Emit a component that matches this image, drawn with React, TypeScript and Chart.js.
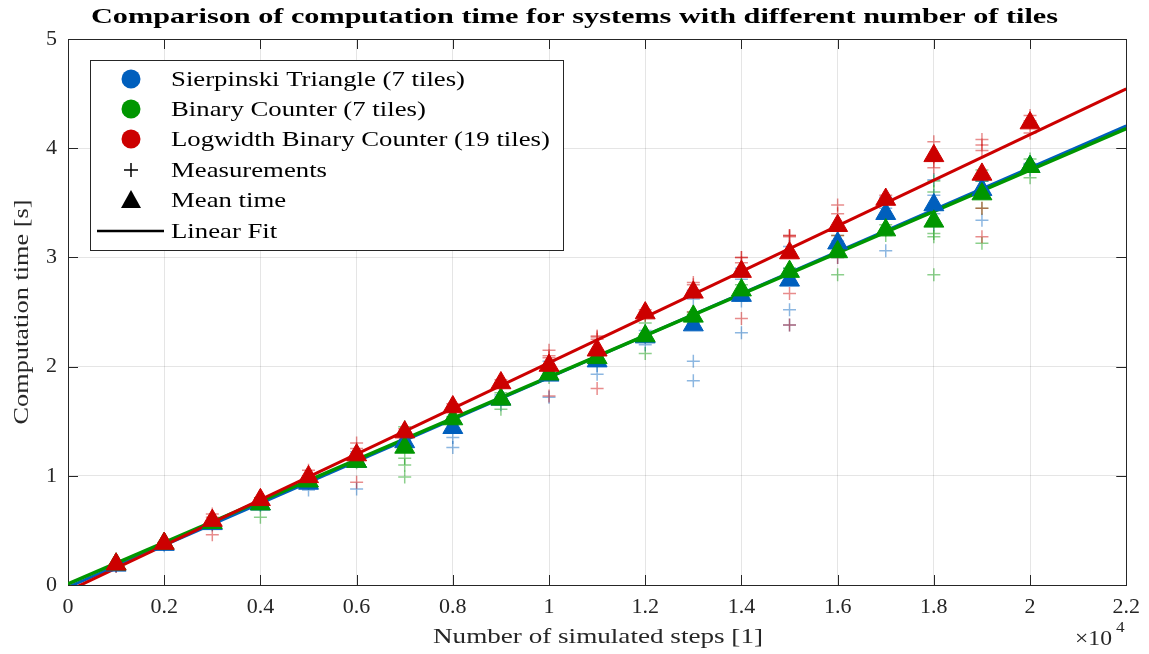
import React, { useEffect, useRef } from "react";
import { Chart, registerables } from "chart.js";

Chart.register(...registerables);

const steps = [1000, 2000, 3000, 4000, 5000, 6000, 7000, 8000, 9000, 10000, 11000, 12000, 13000, 14000, 15000, 16000, 17000, 18000, 19000, 20000];

const sierpinskiMean = [0.18, 0.37, 0.56, 0.74, 0.93, 1.13, 1.31, 1.44, 1.70, 1.92, 2.05, 2.27, 2.38, 2.65, 2.79, 3.13, 3.40, 3.48, 3.62, 3.83];
const binaryMean = [0.19, 0.38, 0.57, 0.74, 0.95, 1.13, 1.26, 1.52, 1.70, 1.93, 2.08, 2.28, 2.46, 2.70, 2.87, 3.05, 3.25, 3.33, 3.58, 3.83];
const logwidthMean = [0.19, 0.38, 0.59, 0.78, 0.99, 1.19, 1.40, 1.63, 1.85, 2.01, 2.15, 2.49, 2.68, 2.87, 3.04, 3.29, 3.53, 3.93, 3.76, 4.23];

const sierpinskiMeas = [
  [0.17, 0.18, 0.19], [0.36, 0.37, 0.38], [0.55, 0.56, 0.57], [0.73, 0.74, 0.75],
  [0.87, 0.95, 0.96], [0.88, 1.18, 1.2, 1.22], [1.28, 1.32, 1.36], [1.26, 1.35, 1.5, 1.6],
  [1.65, 1.70, 1.74], [1.72, 1.95, 2.0, 2.05], [1.93, 2.01, 2.1, 2.15], [2.2, 2.27, 2.33],
  [1.87, 2.05, 2.62, 2.68, 2.7], [2.31, 2.6, 2.8, 2.9], [2.38, 2.52, 2.9, 3.05, 3.1], [3.0, 3.15, 3.25],
  [3.06, 3.45, 3.5, 3.55], [3.3, 3.4, 3.57, 3.71], [3.34, 3.7, 3.7, 3.75], [3.8, 3.85, 3.86]
];
const binaryMeas = [
  [0.18, 0.19, 0.2], [0.37, 0.38, 0.39], [0.56, 0.57, 0.58], [0.62, 0.78, 0.8, 0.78],
  [0.93, 0.96, 0.97], [1.12, 1.13, 1.15], [0.99, 1.10, 1.16, 1.4, 1.45], [1.5, 1.52, 1.54],
  [1.61, 1.72, 1.76], [1.9, 1.93, 1.96], [2.05, 2.1, 2.1], [2.12, 2.3, 2.4],
  [2.4, 2.48, 2.5], [2.65, 2.7, 2.75], [2.85, 2.88, 2.9], [2.84, 3.1, 3.2, 3.1],
  [3.2, 3.25, 3.3], [2.84, 3.19, 3.22, 3.6, 3.7], [3.13, 3.45, 3.7, 3.8], [3.73, 3.85, 3.9]
];
const logwidthMeas = [
  [0.17, 0.18, 0.19], [0.37, 0.38, 0.39], [0.46, 0.62, 0.65], [0.76, 0.78, 0.8],
  [0.96, 0.98, 1.0, 1.05], [0.94, 1.25, 1.3], [1.37, 1.4, 1.43], [1.6, 1.63, 1.66],
  [1.83, 1.85, 1.88], [1.73, 2.1, 2.15, 2.08], [1.80, 2.27, 2.25, 2.28], [2.47, 2.5, 2.52],
  [2.5, 2.75, 2.77], [2.44, 2.95, 3.0, 3.0], [2.38, 2.67, 3.19, 3.2, 3.2], [3.0, 3.2, 3.4, 3.48],
  [3.5, 3.53, 3.57], [3.82, 3.88, 3.92, 4.06], [3.19, 3.45, 3.98, 4.03, 4.08], [4.14, 4.25, 4.3]
];

// linear fit [slope, intercept]
const sierpinskiFit = [1.92e-4, -0.02];
const binaryFit = [1.895e-4, 0.01];
const logwidthFit = [2.09e-4, -0.055];

const xTickValues = [0, 2000, 4000, 6000, 8000, 10000, 12000, 14000, 16000, 18000, 20000, 22000];
const xTickLabels = ["0", "0.2", "0.4", "0.6", "0.8", "1", "1.2", "1.4", "1.6", "1.8", "2", "2.2"];
const yTickValues = [0, 1, 2, 3, 4, 5];

const seriesNames = ["Sierpinski Triangle (7 tiles)", "Binary Counter (7 tiles)", "Logwidth Binary Counter (19 tiles)"];
const legendExtra = ["Measurements", "Mean time", "Linear Fit"];
const titleText = "Comparison of computation time for systems with different number of tiles";
const xTitle = "Number of simulated steps [1]";
const yTitle = "Computation time [s]";

const BLUE = "#005FBD";
const GREEN = "#009600";
const RED = "#CC0000";
const BLUE_A = "rgba(0,95,189,0.45)";
const GREEN_A = "rgba(0,150,0,0.45)";
const RED_A = "rgba(204,0,0,0.45)";
const FONT = "'Liberation Serif', 'DejaVu Serif', serif";

function measPoints(meas: number[][]) {
  const pts: { x: number; y: number }[] = [];
  meas.forEach((vals, i) => vals.forEach((v) => pts.push({ x: steps[i], y: v })));
  return pts;
}
function meanPoints(vals: number[]) {
  return vals.map((v, i) => ({ x: steps[i], y: v }));
}
function fitPoints(fit: number[]) {
  const x0 = xTickValues[0];
  const x1 = xTickValues[xTickValues.length - 1];
  return [
    { x: x0, y: fit[0] * x0 + fit[1] },
    { x: x1, y: fit[0] * x1 + fit[1] },
  ];
}

// draw text horizontally stretched (wide, Computer-Modern-like proportions)
function stretchText(ctx: any, text: string, x: number, y: number, sx: number, align: "left" | "center") {
  ctx.save();
  ctx.translate(x, y);
  ctx.scale(sx, 1);
  ctx.textAlign = align;
  ctx.fillText(text, 0, 0);
  ctx.restore();
}

const decorPlugin = {
  id: "decor",
  beforeDraw(chart: any) {
    const ctx = chart.ctx;
    ctx.save();
    ctx.fillStyle = "#ffffff";
    ctx.fillRect(0, 0, chart.width, chart.height);
    ctx.restore();
  },
  beforeDatasetsDraw(chart: any) {
    const ctx = chart.ctx;
    const a = chart.chartArea;
    const xs = chart.scales.x;
    const ys = chart.scales.y;
    ctx.save();
    ctx.strokeStyle = "#262626";
    ctx.lineWidth = 1;
    ctx.strokeRect(Math.round(a.left) + 0.5, Math.round(a.top) + 0.5, Math.round(a.right - a.left), Math.round(a.bottom - a.top));
    const tl = 10;
    ctx.beginPath();
    xTickValues.forEach((v) => {
      const px = Math.round(xs.getPixelForValue(v)) + 0.5;
      ctx.moveTo(px, a.bottom);
      ctx.lineTo(px, a.bottom - tl);
      ctx.moveTo(px, a.top);
      ctx.lineTo(px, a.top + tl);
    });
    yTickValues.forEach((v) => {
      const py = Math.round(ys.getPixelForValue(v)) + 0.5;
      ctx.moveTo(a.left, py);
      ctx.lineTo(a.left + tl, py);
      ctx.moveTo(a.right, py);
      ctx.lineTo(a.right - tl, py);
    });
    ctx.stroke();
    ctx.restore();
  },
  afterDraw(chart: any) {
    const ctx = chart.ctx;
    ctx.save();
    ctx.textBaseline = "middle";
    // title
    ctx.fillStyle = "#000000";
    ctx.font = `bold 22px ${FONT}`;
    const tw = ctx.measureText(titleText).width;
    stretchText(ctx, titleText, chart.width / 2, 17, 967 / tw, "center");
    // axis titles
    ctx.fillStyle = "#262626";
    ctx.font = `22px ${FONT}`;
    const xw = ctx.measureText(xTitle).width;
    stretchText(ctx, xTitle, 598, 637, 330 / xw, "center");
    const yw = ctx.measureText(yTitle).width;
    ctx.save();
    ctx.translate(22, 312);
    ctx.rotate(-Math.PI / 2);
    stretchText(ctx, yTitle, 0, 0, 225 / yw, "center");
    ctx.restore();
    // x10^4
    ctx.font = `22px ${FONT}`;
    const mw = ctx.measureText("\u00d710").width;
    stretchText(ctx, "\u00d710", 1075, 639, 37 / mw, "left");
    ctx.font = `15px ${FONT}`;
    stretchText(ctx, "4", 1116, 628, 1.15, "left");

    // legend
    const lx = 90, ly = 60, lw = 473, lh = 190;
    ctx.fillStyle = "#ffffff";
    ctx.fillRect(lx, ly, lw, lh);
    ctx.strokeStyle = "#262626";
    ctx.lineWidth = 1;
    ctx.strokeRect(lx + 0.5, ly + 0.5, lw, lh);
    const rows = [79, 109, 139, 170, 200, 231];
    const mx = 131;
    const tx = 171;
    const colors = [BLUE, GREEN, RED];
    ctx.font = `22px ${FONT}`;
    const refW = ctx.measureText(seriesNames[0]).width;
    const sx = 294 / refW;
    for (let i = 0; i < 3; i++) {
      ctx.fillStyle = colors[i];
      ctx.beginPath();
      ctx.arc(mx, rows[i], 9.5, 0, Math.PI * 2);
      ctx.fill();
      ctx.fillStyle = "#000000";
      stretchText(ctx, seriesNames[i], tx, rows[i] + 1, sx, "left");
    }
    // plus
    ctx.strokeStyle = "#000000";
    ctx.lineWidth = 1.5;
    ctx.beginPath();
    ctx.moveTo(mx - 7, rows[3]);
    ctx.lineTo(mx + 7, rows[3]);
    ctx.moveTo(mx, rows[3] - 7);
    ctx.lineTo(mx, rows[3] + 7);
    ctx.stroke();
    ctx.fillStyle = "#000000";
    stretchText(ctx, legendExtra[0], tx, rows[3] + 1, sx, "left");
    // triangle
    ctx.beginPath();
    ctx.moveTo(mx, rows[4] - 10);
    ctx.lineTo(mx + 10, rows[4] + 8);
    ctx.lineTo(mx - 10, rows[4] + 8);
    ctx.closePath();
    ctx.fill();
    stretchText(ctx, legendExtra[1], tx, rows[4] + 1, sx, "left");
    // line
    ctx.lineWidth = 2.5;
    ctx.beginPath();
    ctx.moveTo(97, rows[5]);
    ctx.lineTo(164, rows[5]);
    ctx.stroke();
    stretchText(ctx, legendExtra[2], tx, rows[5] + 1, sx, "left");
    ctx.restore();
  },
};

export default function App() {
  const ref = useRef<HTMLCanvasElement | null>(null);
  useEffect(() => {
    if (!ref.current) return;
    const triangle = (data: any, color: string, order: number) => ({
      type: "scatter" as const,
      data,
      order,
      pointStyle: "triangle",
      pointRadius: 11.5,
      pointBackgroundColor: color,
      pointBorderColor: color,
      pointBorderWidth: 1,
      showLine: false,
    });
    const cross = (data: any, color: string, order: number) => ({
      type: "scatter" as const,
      data,
      order,
      pointStyle: "cross",
      pointRadius: 6.5,
      pointBorderColor: color,
      pointBackgroundColor: color,
      pointBorderWidth: 1.5,
      showLine: false,
    });
    const line = (data: any, color: string, order: number, w: number) => ({
      type: "line" as const,
      data,
      order,
      borderColor: color,
      borderWidth: w,
      pointRadius: 0,
      fill: false,
      tension: 0,
    });
    const chart = new Chart(ref.current, {
      type: "scatter",
      data: {
        datasets: [
          triangle(meanPoints(logwidthMean), RED, 0),
          triangle(meanPoints(binaryMean), GREEN, 1),
          triangle(meanPoints(sierpinskiMean), BLUE, 2),
          line(fitPoints(logwidthFit), RED, 3, 3),
          line(fitPoints(binaryFit), GREEN, 4, 3.5),
          line(fitPoints(sierpinskiFit), BLUE, 5, 3),
          cross(measPoints(logwidthMeas), RED_A, 6),
          cross(measPoints(binaryMeas), GREEN_A, 7),
          cross(measPoints(sierpinskiMeas), BLUE_A, 8),
        ] as any,
      },
      options: {
        responsive: false,
        animation: false,
        layout: { padding: { top: 39, right: 22, left: 0, bottom: 0 } },
        plugins: { legend: { display: false }, title: { display: false }, tooltip: { enabled: false } },
        scales: {
          x: {
            type: "linear",
            min: 0,
            max: 22000,
            afterBuildTicks: (scale: any) => {
              scale.ticks = xTickValues.map((v) => ({ value: v }));
            },
            afterFit: (scale: any) => {
              scale.height = 69;
            },
            grid: { color: "rgba(0,0,0,0.1)", lineWidth: 1, drawTicks: false },
            border: { display: false },
            ticks: {
              padding: 9,
              color: "#262626",
              font: { family: FONT, size: 22 },
              maxRotation: 0,
              autoSkip: false,
              callback: (v: any) => {
                const i = xTickValues.indexOf(Number(v));
                return i >= 0 ? xTickLabels[i] : "";
              },
            },
          },
          y: {
            type: "linear",
            min: 0,
            max: 5,
            afterBuildTicks: (scale: any) => {
              scale.ticks = yTickValues.map((v) => ({ value: v }));
            },
            afterFit: (scale: any) => {
              scale.width = 68;
            },
            grid: { color: "rgba(0,0,0,0.1)", lineWidth: 1, drawTicks: false },
            border: { display: false },
            ticks: {
              padding: 11,
              color: "#262626",
              font: { family: FONT, size: 22 },
              callback: (v: any) => String(v),
            },
          },
        },
      } as any,
      plugins: [decorPlugin],
    });
    return () => chart.destroy();
  }, []);
  return (
    <div style={{ position: "absolute", left: 0, top: 0, width: 1149, height: 654 }}>
      <canvas ref={ref} width={1149} height={654} style={{ display: "block" }} />
    </div>
  );
}
